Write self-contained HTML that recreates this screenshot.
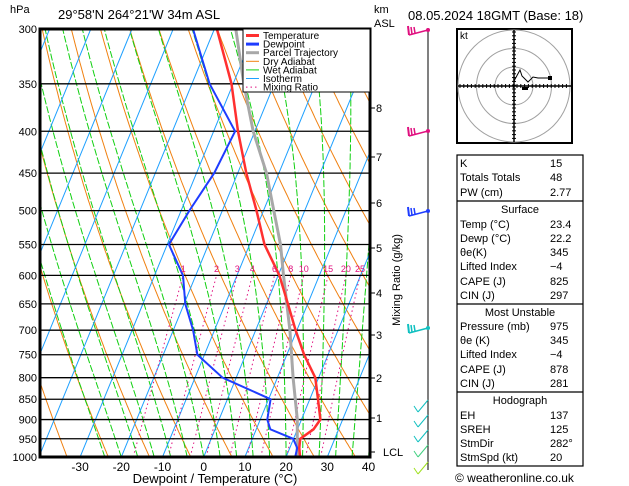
<!DOCTYPE html>
<html><head><meta charset="utf-8">
<style>
body{margin:0;background:#fff;}
svg{display:block;font-family:"Liberation Sans",sans-serif;}
</style></head>
<body>
<svg id="c" width="629" height="486" viewBox="0 0 629 486">
<defs><clipPath id="pc"><rect x="40" y="29" width="330" height="428"/></clipPath></defs>
<g id="bg" clip-path="url(#pc)"></g>
<g id="iso"></g>
<g id="prof" clip-path="url(#pc)"></g>
<rect x="40" y="29" width="330" height="428" fill="none" stroke="#000" stroke-width="3"/>
<g id="axes"></g>
<text x="10" y="13" font-size="11">hPa</text>
<text x="58" y="19" font-size="13">29°58'N  264°21'W  34m  ASL</text>
<text x="374" y="13" font-size="11">km</text>
<text x="374" y="27" font-size="11">ASL</text>
<text x="408" y="20" font-size="13">08.05.2024  18GMT  (Base: 18)</text>
<text x="215" y="483" font-size="13" text-anchor="middle">Dewpoint / Temperature (°C)</text>
<text transform="translate(400,280) rotate(-90)" font-size="11" text-anchor="middle">Mixing Ratio (g/kg)</text>
<g id="legend"></g>
<g id="wind"></g>
<g id="hodo"></g>
<g id="table"></g>
<text x="455" y="482" font-size="12">© weatheronline.co.uk</text>
</svg>
<script>
const levels=[300,350,400,450,500,550,600,650,700,750,800,850,900,925,950,975,1000];
const tempC=[-39.4,-30.4,-24.1,-17.9,-11.7,-6.4,0.3,5.2,9.7,14.2,19.2,22.0,24.6,23.9,21.6,22.3,23.4];
const dewC=[-45.2,-35.7,-24.8,-25.7,-28.0,-29.6,-23.1,-19.7,-15.2,-11.7,-3.3,10.5,11.7,13.4,19.9,21.8,22.2];
const parcelP=[300,350,400,450,500,550,600,700,800,900,1000];
const parcelC=[-34.8,-27.4,-20.4,-13.0,-7.5,-2.5,1.3,8.3,13.8,19.0,22.7];
const xTicks=[-30,-20,-10,0,10,20,30,40];
const pTicks=[300,350,400,450,500,550,600,650,700,750,800,850,900,950,1000];
const kmTicks=[8,7,6,5,4,3,2,1];
const kmY=[108,157,203,248,293,335,378,418];
const mixRatios=[1,2,3,4,6,8,10,15,20,25];
const tableRows=[["K","15"],["Totals Totals","48"],["PW (cm)","2.77"],["#Surface"],["Temp (°C)","23.4"],["Dewp (°C)","22.2"],["θe(K)","345"],["Lifted Index","−4"],["CAPE (J)","825"],["CIN (J)","297"],["#Most Unstable"],["Pressure (mb)","975"],["θe (K)","345"],["Lifted Index","−4"],["CAPE (J)","878"],["CIN (J)","281"],["#Hodograph"],["EH","137"],["SREH","125"],["StmDir","282°"],["StmSpd (kt)","20"]];
const NS="http://www.w3.org/2000/svg";
function el(tag,attrs,parent){const e=document.createElementNS(NS,tag);for(const k in attrs)e.setAttribute(k,attrs[k]);parent.appendChild(e);return e;}
function py(p){return 29+428*Math.log(p/300)/Math.log(1000/300);}
function tx(T,p){return 203.7+4.12*T+(457-py(p))*0.41;}
const bg=document.getElementById('bg');
function poly(pts,stroke,w,dash,parent,name){const e=el('polyline',{points:pts.map(q=>q[0].toFixed(1)+','+q[1].toFixed(1)).join(' '),fill:'none',stroke:stroke,'stroke-width':w},parent);if(dash)e.setAttribute('stroke-dasharray',dash);

return e;}
const pr=[];for(let p=1000;p>=295;p-=5)pr.push(p);
// dry adiabats
for(let th=230;th<=470;th+=10){poly(pr.map(p=>[tx(th*Math.pow(p/1000,0.286)-273.15,p),py(p)]),'#f08010',1,null,bg,'dry-adiabat');}
// wet adiabats
function es(Tc){return 6.112*Math.exp(17.67*Tc/(Tc+243.5));}
for(let T0=-24;T0<=40;T0+=4){let T=T0+273.15;const pts=[];for(let p=1000;p>=300;p-=5){pts.push([tx(T-273.15,p),py(p)]);const e=es(T-273.15);const rs=0.622*e/(p-e);const d=(287*T+2.5e6*rs)/(p*(1004+2.5e6*2.5e6*rs*0.622/(287*T*T)));T-=d*5;}poly(pts,'#10d010',1,'7,2',bg,'wet-adiabat');}
// isotherms
for(let T=-120;T<=40;T+=10){poly([[tx(T,1000),py(1000)],[tx(T,300),py(300)]],'#1ea0ff',1,null,bg,'isotherm');}
// mixing ratio
function tdFromW(w,p){const e=w*p/(622+w);const l=Math.log(e/6.112);return 243.5*l/(17.67-l);}
mixRatios.forEach(w=>{const pts=[];for(let p=1000;p>=600;p-=10)pts.push([tx(tdFromW(w,p),p),py(p)]);poly(pts,'#e0107f',1,'1.5,3',bg,'mixing-ratio-line');
const t=el('text',{x:tx(tdFromW(w,600),600).toFixed(1),y:272,'font-size':9,fill:'#e0107f','text-anchor':'middle'},document.getElementById('c'));t.textContent=w;

});
// isobars + labels
const iso=document.getElementById('iso'),axes=document.getElementById('axes');
pTicks.forEach(p=>{const l=el('line',{x1:40,x2:370,y1:py(p),y2:py(p),stroke:'#000','stroke-width':1.3},iso);


const t=el('text',{x:37,y:py(p)+4,'font-size':11,'text-anchor':'end'},axes);t.textContent=p;

});
xTicks.forEach(T=>{const t=el('text',{x:203.7+4.12*T,y:471,'font-size':12,'text-anchor':'middle'},axes);t.textContent=T;

});
kmTicks.forEach((k,i)=>{const l=el('line',{x1:370,x2:375,y1:kmY[i],y2:kmY[i],stroke:'#000'},axes);


const t=el('text',{x:376,y:kmY[i]+4,'font-size':11},axes);t.textContent=k;

});
{const l=el('line',{x1:370,x2:375,y1:452,y2:452,stroke:'#000'},axes);
const t=el('text',{x:383,y:456,'font-size':11},axes);t.textContent='LCL';}
// profiles
const prof=document.getElementById('prof');
poly(parcelP.map((p,i)=>[tx(parcelC[i],p),py(p)]),'#a8a8a8',3,null,prof,'parcel-trajectory');
poly(levels.map((p,i)=>[tx(dewC[i],p),py(p)]),'#1e3cff',2,null,prof,'dewpoint-line');
poly(levels.map((p,i)=>[tx(tempC[i],p),py(p)]),'#ff3030',2.5,null,prof,'temperature-line');
// legend
const lg=document.getElementById('legend');
el('rect',{x:243,y:29,width:127,height:63,fill:'#fff',stroke:'#000','stroke-width':1},lg);
const items=[["Temperature","#ff3030",3,null],["Dewpoint","#1e3cff",3,null],["Parcel Trajectory","#a8a8a8",3,null],["Dry Adiabat","#f08010",1,null],["Wet Adiabat","#10d010",1,null],["Isotherm","#1ea0ff",1,null],["Mixing Ratio","#e0107f",1,"1.5,3"]];
items.forEach((it,i)=>{const y=35.5+i*8.6;const l=el('line',{x1:246,x2:259,y1:y,y2:y,stroke:it[1],'stroke-width':it[2]},lg);if(it[3])l.setAttribute('stroke-dasharray',it[3]);


const t=el('text',{x:263,y:y+3.5,'font-size':10},lg);t.textContent=it[0];

});
// wind column
const wd=document.getElementById('wind');
el('line',{x1:428,x2:428,y1:28,y2:470,stroke:'#000'},wd);
[[30,'#e0107f'],[131,'#e0107f'],[211,'#1e3cff'],[328,'#10c0c0']].forEach(b=>{const y=b[0];el('line',{x1:428,y1:y,x2:409,y2:y+5,stroke:b[1],'stroke-width':1.5},wd);el('line',{x1:409,y1:y+5,x2:408,y2:y-4,stroke:b[1],'stroke-width':2},wd);el('line',{x1:412,y1:y+4,x2:411,y2:y-3,stroke:b[1],'stroke-width':1.5},wd);el('line',{x1:415,y1:y+3,x2:414,y2:y-3,stroke:b[1],'stroke-width':1.5},wd);el('circle',{cx:428,cy:y,r:2,fill:b[1]},wd);});
[[400,'#10c0c0'],[415,'#10c0c0'],[430,'#10c0c0'],[445,'#40d080'],[462,'#a0e020']].forEach(b=>{const y=b[0];el('line',{x1:428,y1:y,x2:418,y2:y+12,stroke:b[1],'stroke-width':1},wd);el('line',{x1:418,y1:y+12,x2:414,y2:y+6,stroke:b[1],'stroke-width':1},wd);});
// hodograph
const h=document.getElementById('hodo');const cx=514,cy=86;
el('rect',{x:457,y:29,width:115,height:114,fill:'#fff',stroke:'#000','stroke-width':2},h);
[19,37.5,56].forEach(r=>el('circle',{cx:cx,cy:cy,r:r,fill:'none',stroke:'#a0a0a0'},h));
el('line',{x1:458,x2:571,y1:cy,y2:cy,stroke:'#000','stroke-width':1.5},h);
el('line',{x1:cx,x2:cx,y1:30,y2:142,stroke:'#000','stroke-width':1.5},h);
for(let d=-54;d<=54;d+=3.8){el('line',{x1:cx+d,x2:cx+d,y1:cy-2,y2:cy+2,stroke:'#000'},h);el('line',{x1:cx-2,x2:cx+2,y1:cy+d,y2:cy+d,stroke:'#000'},h);}
el('polyline',{points:'514,81 520,70 522,76 528,82 533,77 538,78 542,78 550,78',fill:'none',stroke:'#000'},h);
el('rect',{x:548,y:76,width:4,height:4,fill:'#000'},h);el('rect',{x:522,y:87,width:6,height:3,fill:'#000'},h);
const kt=el('text',{x:460,y:39,'font-size':10},h);kt.textContent='kt';
// table
const tb=document.getElementById('table');
el('rect',{x:457,y:155,width:126,height:311,fill:'#fff',stroke:'#000','stroke-width':1.2},tb);
[201,304,392].forEach(y=>el('line',{x1:457,x2:583,y1:y,y2:y,stroke:'#000','stroke-width':1.2},tb));
const ys=[167,181,196,213,228,242,256,270,285,299,316,330,344,358,373,387,404,419,433,447,461];
tableRows.forEach((r,i)=>{if(r[0][0]=='#'){const t=el('text',{x:520,y:ys[i],'font-size':11,'text-anchor':'middle'},tb);t.textContent=r[0].slice(1);}
else{const t=el('text',{x:460,y:ys[i],'font-size':11},tb);t.textContent=r[0];
const v=el('text',{x:550,y:ys[i],'font-size':11},tb);v.textContent=r[1];}});
</script>
</body></html>
